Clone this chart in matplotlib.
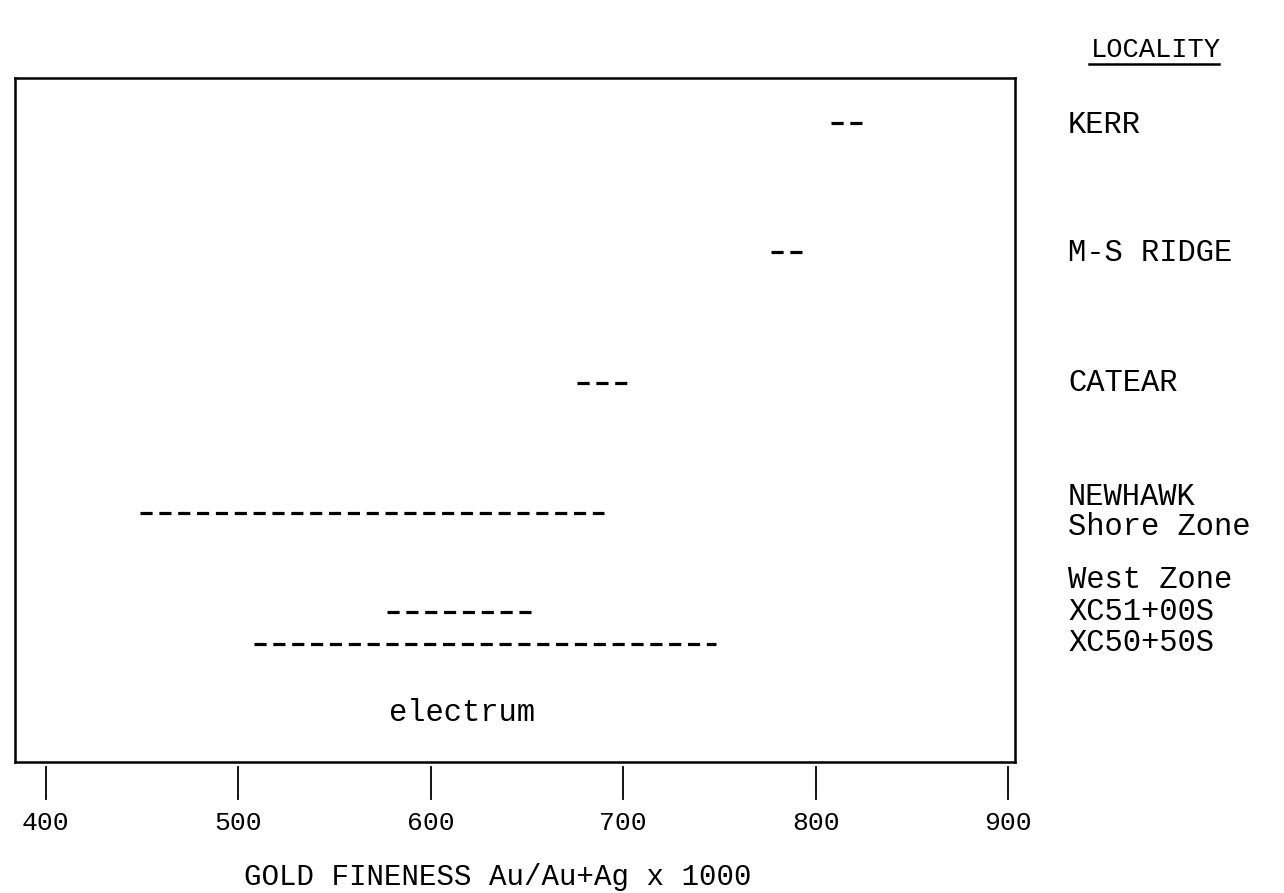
import matplotlib
matplotlib.use("Agg")
import matplotlib.pyplot as plt

# data: gold fineness ranges per locality
rows = ["KERR", "M-S RIDGE", "CATEAR", "Shore Zone", "XC51+00S", "XC50+50S"]
fin_lo = [808, 777, 676, 449, 577, 508]
fin_hi = [825, 795, 702, 690, 652, 748]
row_y = [123, 252, 383, 513, 612, 644]

# right-hand locality labels
loc_labels = ["KERR", "M-S RIDGE", "CATEAR", "NEWHAWK", "Shore Zone",
              "West Zone", "XC51+00S", "XC50+50S"]
loc_y = [125, 253, 383, 497, 527, 580, 612, 643]

xticks = [400, 500, 600, 700, 800, 900]

FONT = "Liberation Mono"
plt.rcParams["font.family"] = [FONT, "DejaVu Sans Mono"]

W, H = 1284, 893
fig = plt.figure(figsize=(W / 100, H / 100), dpi=100)
ax = fig.add_axes([15 / W, (H - 762) / H, 1000 / W, (762 - 78) / H])

for lo, hi, y in zip(fin_lo, fin_hi, row_y):
    ax.plot([lo, hi], [y, y], color="black", lw=2.3,
            linestyle=(0, (3.8, 2.1)), solid_capstyle="butt",
            dash_capstyle="butt")

ax.set_xlim(384, 903.5)
ax.set_ylim(762, 78)
ax.set_yticks([])

for sp in ax.spines.values():
    sp.set_linewidth(1.8)

# ticks sit below the frame, detached from it
ax.set_xticks(xticks)
ax.set_xticklabels([str(t) for t in xticks], fontsize=19)
ax.tick_params(axis="x", length=0, pad=35)
tr = ax.get_xaxis_transform()
for t in xticks:
    ax.plot([t, t], [-0.007, -0.054], color="black", lw=1.3,
            transform=tr, clip_on=False)

ax.text(616, 713, "electrum", fontsize=22, ha="center", va="center")

ytr = ax.get_yaxis_transform()
for lab, y in zip(loc_labels, loc_y):
    ax.text(1.053, y, lab, fontsize=22, ha="left", va="center",
            transform=ytr, clip_on=False)

ax.text(1.076, 50, "LOCALITY", fontsize=19.5, ha="left", va="center",
        transform=ytr, clip_on=False)
ax.plot([1.074, 1.204], [64, 64], color="black", lw=1.8,
        transform=ytr, clip_on=False)

fig.text(498 / W, 1 - 877 / H, "GOLD FINENESS Au/Au+Ag x 1000",
         fontsize=21, ha="center", va="center")

fig.savefig("out.png", dpi=100)
